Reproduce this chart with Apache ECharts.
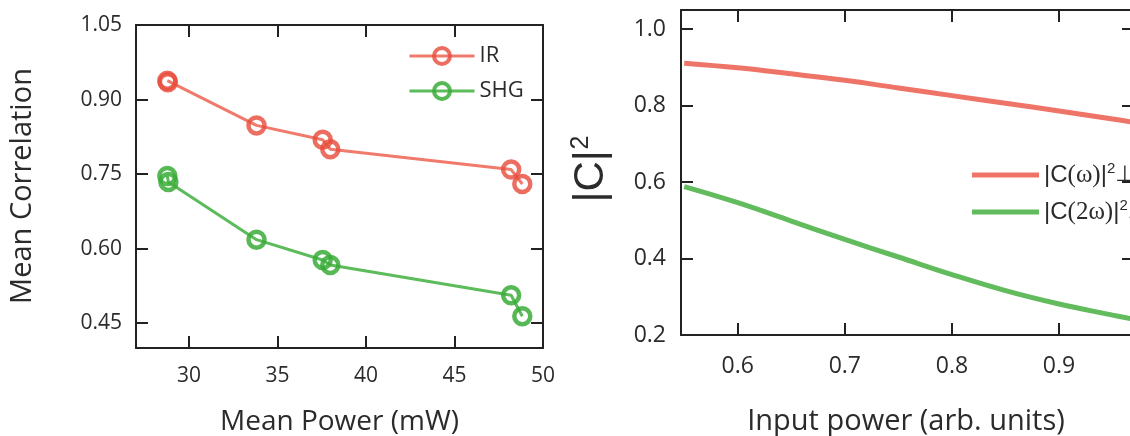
<!DOCTYPE html>
<html>
<head>
<meta charset="utf-8">
<script src="https://cdn.jsdelivr.net/npm/echarts@6/dist/echarts.min.js"></script>
<style>
  html, body { margin: 0; padding: 0; background: #fff; }
  #chart { width: 1130px; height: 436px; }
</style>
</head>
<body>
<div id="chart"></div>
<script>
  // left panel: measured mean correlation vs mean power
  const irPoints = [[28.77, 0.938], [28.80, 0.935], [33.81, 0.848], [37.55, 0.819], [37.98, 0.800], [48.20, 0.759], [48.83, 0.730]];
  const shgPoints = [[28.77, 0.746], [28.83, 0.734], [33.81, 0.618], [37.55, 0.577], [37.98, 0.567], [48.20, 0.506], [48.83, 0.464]];
  const powerTicks = [30, 35, 40, 45, 50];
  const corrTicks = [0.45, 0.60, 0.75, 0.90, 1.05];

  // right panel: |C|^2 vs input power
  const inputPower = [0.55, 0.60, 0.65, 0.70, 0.75, 0.80, 0.85, 0.90, 0.95, 0.97];
  const cOmega = [0.911, 0.899, 0.883, 0.866, 0.846, 0.826, 0.806, 0.786, 0.765, 0.756];
  const c2Omega = [0.588, 0.546, 0.498, 0.450, 0.404, 0.358, 0.316, 0.281, 0.252, 0.241];
  const inputTicks = [0.6, 0.7, 0.8, 0.9];
  const cTicks = [0.2, 0.4, 0.6, 0.8, 1.0];

  const FRAME = '#222';
  const TXT = '#2b2b2b';
  const FONT = 'Open Sans';

  // one side of the box frame: inward ticks, labels optional
  function frameAxis(gridIndex, position, min, max, ticks, labels, fmt, fontSize, margin) {
    return {
      gridIndex: gridIndex,
      type: 'value',
      position: position,
      min: min,
      max: max,
      axisLine: {show: true, onZero: false, lineStyle: {color: FRAME, width: 2}},
      axisTick: {show: true, inside: true, length: 12, lineStyle: {color: FRAME, width: 2}, customValues: ticks},
      axisLabel: labels ? {
        show: true, customValues: labels, formatter: fmt, color: TXT,
        fontFamily: FONT, fontSize: fontSize, margin: margin
      } : {show: false},
      splitLine: {show: false}
    };
  }

  const leftBox = {left: 136, width: 407, top: 25, height: 323, outerBoundsMode: 'none', containLabel: false};
  const rightBox = {left: 681, width: 453, top: 10, height: 325, outerBoundsMode: 'none', containLabel: false};

  const legendRich = {
    a: {fontFamily: 'Liberation Sans', fontSize: 24, color: TXT, lineHeight: 28},
    b: {fontFamily: 'Liberation Serif', fontSize: 25, color: TXT, lineHeight: 28},
    s: {fontFamily: 'Liberation Sans', fontSize: 15, color: TXT, lineHeight: 28, verticalAlign: 'top', padding: [0, 0, 8, 0]},
    p: {fontFamily: 'DejaVu Sans', fontSize: 22, color: TXT, lineHeight: 28}
  };

  const chart = echarts.init(document.getElementById('chart'));

  chart.setOption({
    animation: false,
    // grids 1 and 3 only carry the mirrored top/right sides of each box
    grid: [leftBox, Object.assign({}, leftBox), rightBox, Object.assign({}, rightBox)],
    xAxis: [
      frameAxis(0, 'bottom', 27, 50, [30, 35, 40, 45], powerTicks, v => String(v), 21, 18),
      frameAxis(1, 'top', 27, 50, [30, 35, 40, 45], null),
      frameAxis(2, 'bottom', 0.547, 0.970, inputTicks, inputTicks, v => v.toFixed(1), 23, 20),
      frameAxis(3, 'top', 0.547, 0.970, inputTicks, null)
    ],
    yAxis: [
      frameAxis(0, 'left', 0.40, 1.05, [0.45, 0.60, 0.75, 0.90], corrTicks, v => v.toFixed(2), 21, 14),
      frameAxis(1, 'right', 0.40, 1.05, [0.45, 0.60, 0.75, 0.90], null),
      frameAxis(2, 'left', 0.2, 1.05, [0.4, 0.6, 0.8, 1.0], cTicks, v => v.toFixed(1), 23, 15),
      frameAxis(3, 'right', 0.2, 1.05, [0.4, 0.6, 0.8, 1.0], null)
    ],
    // axis titles
    graphic: [
      {
        type: 'text', x: 339.5, y: 422,
        style: {text: 'Mean Power (mW)', fontFamily: FONT, fontSize: 28, fill: TXT, align: 'center', verticalAlign: 'middle'}
      },
      {
        type: 'text', x: 23, y: 186, rotation: Math.PI / 2,
        style: {text: 'Mean Correlation', fontFamily: FONT, fontSize: 29, fill: TXT, align: 'center', verticalAlign: 'middle'}
      },
      {
        type: 'text', x: 906, y: 422,
        style: {text: 'Input power (arb. units)', fontFamily: FONT, fontSize: 29, fill: TXT, align: 'center', verticalAlign: 'middle'}
      },
      {
        type: 'text', x: 591, y: 169, rotation: Math.PI / 2,
        style: {
          text: '{a||C|}{s|2}', align: 'center', verticalAlign: 'middle',
          rich: {
            a: {fontFamily: 'Liberation Sans', fontSize: 42, fill: TXT, lineHeight: 44},
            s: {fontFamily: 'Liberation Sans', fontSize: 25, fill: TXT, lineHeight: 44, verticalAlign: 'top', padding: [0, 0, 14, 1]}
          }
        }
      }
    ],
    legend: [
      {
        data: ['IR', 'SHG'],
        orient: 'vertical',
        left: 403,
        top: 39,
        itemWidth: 65,
        itemHeight: 20,
        itemGap: 11,
        itemStyle: {borderWidth: 4},
        lineStyle: {width: 3},
        textStyle: {fontFamily: FONT, fontSize: 22, color: TXT, lineHeight: 24}
      },
      {
        data: ['Cw', 'C2w'],
        orient: 'vertical',
        left: 967,
        top: 156,
        icon: 'rect',
        itemWidth: 67,
        itemHeight: 5,
        itemGap: 9,
        textStyle: {rich: legendRich, lineHeight: 28},
        formatter: function (name) {
          if (name === 'Cw') return '{a||C}{b|(ω)}{a||}{s|2}{p|⊥}';
          return '{a||C}{b|(2ω)}{a||}{s|2}{p|⊥}';
        }
      }
    ],
    series: [
      {
        name: 'IR',
        type: 'line',
        xAxisIndex: 0,
        yAxisIndex: 0,
        data: irPoints,
        symbol: 'circle',
        symbolSize: 16,
        lineStyle: {color: '#f07a6c', width: 3},
        itemStyle: {color: 'rgba(0,0,0,0)', borderColor: 'rgba(232,78,62,0.82)', borderWidth: 4.5}
      },
      {
        name: 'SHG',
        type: 'line',
        xAxisIndex: 0,
        yAxisIndex: 0,
        data: shgPoints,
        symbol: 'circle',
        symbolSize: 16,
        lineStyle: {color: '#5cbb5a', width: 3},
        itemStyle: {color: 'rgba(0,0,0,0)', borderColor: 'rgba(58,172,56,0.85)', borderWidth: 4.5}
      },
      {
        name: 'Cw',
        type: 'line',
        xAxisIndex: 2,
        yAxisIndex: 2,
        data: inputPower.map((x, i) => [x, cOmega[i]]),
        symbol: 'none',
        smooth: 0.4,
        color: '#ef7468',
        itemStyle: {color: '#ef7468'},
        lineStyle: {color: '#ef7468', width: 5}
      },
      {
        name: 'C2w',
        type: 'line',
        xAxisIndex: 2,
        yAxisIndex: 2,
        data: inputPower.map((x, i) => [x, c2Omega[i]]),
        symbol: 'none',
        smooth: 0.4,
        color: '#62bb5c',
        itemStyle: {color: '#62bb5c'},
        lineStyle: {color: '#62bb5c', width: 5}
      }
    ]
  });
</script>
</body>
</html>
